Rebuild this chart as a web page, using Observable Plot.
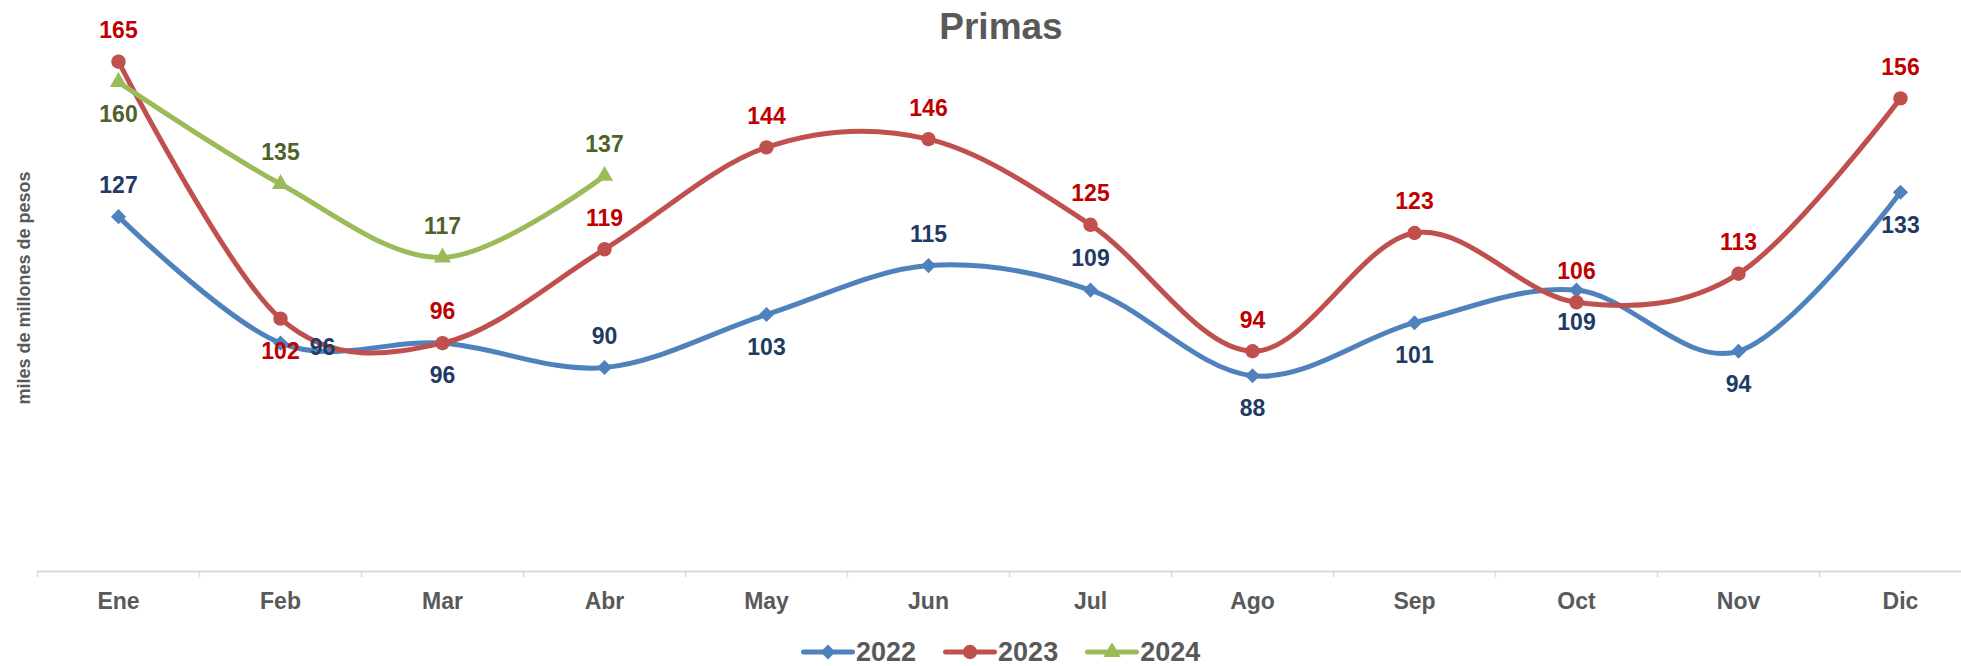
<!DOCTYPE html>
<html>
<head>
<meta charset="utf-8">
<script src="https://cdn.jsdelivr.net/npm/d3@7"></script>
<script src="https://cdn.jsdelivr.net/npm/@observablehq/plot@0.6"></script>
<style>
  html, body { margin: 0; padding: 0; background: #fff; overflow: hidden; }
  body { width: 1961px; height: 666px; position: relative; font-family: "Liberation Sans", Arial, sans-serif; }
  #chart { position: absolute; left: 0; top: 0; }
  #title { position: absolute; left: 0; width: 2002px; top: 8px; text-align: center; font-size: 37px; line-height: 37px; font-weight: bold; color: #595959; }
  #legend { position: absolute; left: 801px; top: 639px; height: 26px; display: flex; align-items: center; font-size: 27px; line-height: 26px; font-weight: bold; color: #595959; }
  .item { display: flex; align-items: center; margin-right: 27px; }
  .item svg { margin-right: 1px; }
</style>
</head>
<body>
<div id="chart"></div>
<div id="title">Primas</div>
<div id="legend"></div>
<script>
const months = ["Ene","Feb","Mar","Abr","May","Jun","Jul","Ago","Sep","Oct","Nov","Dic"];
const series = ["2022","2023","2024"];
const v2022 = [127, 96, 96, 90, 103, 115, 109, 88, 101, 109, 94, 133];
const v2023 = [165, 102, 96, 119, 144, 146, 125, 94, 123, 106, 113, 156];
const v2024 = [160, 135, 117, 137];
// label placement relative to each point
const pos2022 = ["top","right","bottom","top","bottom","top","top","bottom","bottom","bottom","bottom","bottom"];
const pos2023 = ["top","bottom","top","top","top","top","top","top","top","top","top","top"];
const pos2024 = ["bottom","top","top","top"];
const yLabel = "miles de millones de pesos";

const lineColors = ["#4F81BD", "#C0504D", "#9BBB59"];
const textColors = ["#1F3B63", "#C00000", "#4F6228"];
const symbols = ["diamond2", "circle", "triangle"];
const radii = [6.8, 7.2, 6.4];

const rows = [v2022, v2023, v2024].map((vals, s) =>
  vals.map((v, i) => ({i, v, pos: [pos2022, pos2023, pos2024][s][i]})));

const boundaries = d3.range(months.length + 1).map(k => k - 0.5);

const marks = [
  Plot.ruleY([40], {stroke: "#D9D9D9", strokeWidth: 2}),
  Plot.axisX({ticks: boundaries, tickSize: 6, tickFormat: () => "", stroke: "#D9D9D9", strokeWidth: 1.5, label: null}),
  Plot.axisX({ticks: d3.range(months.length), tickSize: 0, tickPadding: 21, tickFormat: i => months[i],
    fontSize: 23, fontWeight: "bold", color: "#595959", label: null}),
  Plot.text([yLabel], {frameAnchor: "left", textAnchor: "middle", rotate: -90, dx: -13, dy: 2, fontSize: 18, fontWeight: "bold", fill: "#595959"})
];

rows.forEach((r, s) => {
  marks.push(Plot.line(r, {x: "i", y: "v", stroke: lineColors[s], strokeWidth: 5, curve: "cardinal", strokeLinecap: "round", strokeLinejoin: "round"}));
  marks.push(Plot.dot(r, {x: "i", y: "v", symbol: symbols[s], r: radii[s], fill: lineColors[s], stroke: "none"}));
});

rows.forEach((r, s) => {
  const common = {x: "i", y: "v", text: d => String(d.v), fill: textColors[s], fontSize: 23, fontWeight: "bold"};
  marks.push(Plot.text(r.filter(d => d.pos === "top"), {...common, dy: -31}));
  marks.push(Plot.text(r.filter(d => d.pos === "bottom"), {...common, dy: 33}));
  marks.push(Plot.text(r.filter(d => d.pos === "right"), {...common, dx: 42, dy: 5}));
});

const chart = Plot.plot({
  width: 1961,
  height: 636,
  marginTop: 0,
  marginBottom: 65,
  marginLeft: 37,
  marginRight: 0,
  x: {type: "linear", domain: [-0.5, 11.5], range: [37, 1981]},
  y: {domain: [40, 180], axis: null},
  style: {fontFamily: "'Liberation Sans', Arial, sans-serif", background: "white"},
  marks
});
document.getElementById("chart").appendChild(chart);

// legend
const legend = document.getElementById("legend");
series.forEach((name, s) => {
  const item = document.createElement("div");
  item.className = "item";
  const svg = d3.create("svg").attr("width", 54).attr("height", 18);
  svg.append("line").attr("x1", 2.5).attr("x2", 51.5).attr("y1", 9).attr("y2", 9)
    .attr("stroke", lineColors[s]).attr("stroke-width", 5).attr("stroke-linecap", "round");
  const sym = {diamond2: d3.symbolDiamond2, circle: d3.symbolCircle, triangle: d3.symbolTriangle}[symbols[s]];
  svg.append("path").attr("transform", "translate(27,9)")
    .attr("d", d3.symbol(sym, Math.PI * radii[s] * radii[s])())
    .attr("fill", lineColors[s]);
  item.appendChild(svg.node());
  const t = document.createElement("span");
  t.textContent = name;
  item.appendChild(t);
  legend.appendChild(item);
});
</script>
</body>
</html>
